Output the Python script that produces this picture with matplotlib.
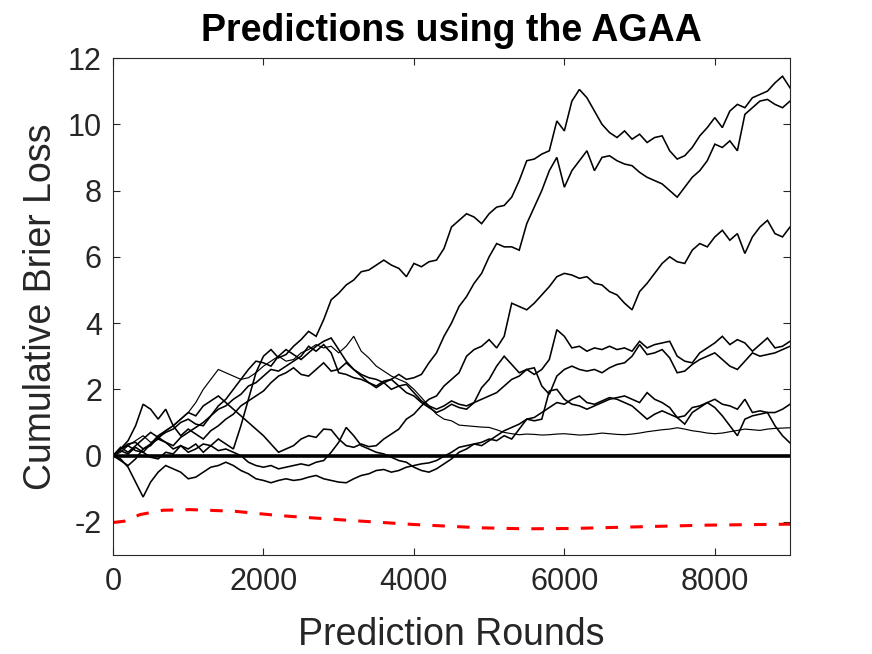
import numpy as np
import matplotlib
matplotlib.use("Agg")
import matplotlib.pyplot as plt

plt.rcParams['font.family'] = ['Liberation Sans', 'DejaVu Sans']
plt.rcParams['axes.unicode_minus'] = False

# Prediction rounds (sampled every 100 rounds)
rounds = np.arange(0, 9001, 100)

loss_a = [0.0, 0.15, 0.05, 0.25, 0.1, -0.05, -0.1, 0.1, 0.05, 0.3,
          0.2, 0.35, 0.1, 0.3, 0.5, 0.35, 0.2, 0.9, 1.7, 2.5,
          3.0, 3.2, 2.95, 3.05, 3.3, 3.5, 3.75, 3.6, 4.1, 4.7,
          4.9, 5.15, 5.3, 5.55, 5.6, 5.75, 5.9, 5.75, 5.65, 5.4,
          5.8, 5.7, 5.85, 5.9, 6.25, 6.9, 7.1, 7.3, 7.2, 7.0,
          7.3, 7.5, 7.55, 7.8, 8.3, 8.9, 8.95, 9.1, 9.2, 10.1,
          9.8, 10.7, 11.05, 10.8, 10.4, 10.0, 9.75, 9.6, 9.8, 9.55,
          9.7, 9.45, 9.6, 9.65, 9.2, 8.95, 9.05, 9.3, 9.65, 9.9,
          10.2, 9.9, 10.4, 10.6, 10.5, 10.8, 10.9, 11.0, 11.25, 11.45,
          11.1]

loss_b = [0.0, 0.2, 0.35, 0.4, 0.2, 0.3, 0.55, 0.7, 0.8, 1.0,
          1.1, 0.95, 0.9, 1.2, 1.4, 1.5, 1.7, 1.85, 2.1, 2.2,
          2.4, 2.6, 2.55, 2.7, 2.85, 3.0, 3.3, 3.15, 3.35, 3.1,
          2.5, 2.45, 2.35, 2.3, 2.2, 2.1, 2.25, 2.3, 2.45, 2.3,
          2.35, 2.45, 2.8, 3.1, 3.6, 4.0, 4.5, 4.8, 5.2, 5.5,
          6.0, 6.4, 6.3, 6.3, 6.2, 7.0, 7.5, 8.0, 8.6, 9.0,
          8.1, 8.6, 8.9, 9.2, 8.6, 9.0, 9.05, 8.9, 8.8, 8.75,
          8.55, 8.4, 8.3, 8.2, 8.0, 7.8, 8.1, 8.4, 8.6, 8.9,
          9.4, 9.3, 9.5, 9.2, 10.3, 10.5, 10.7, 10.75, 10.6, 10.5,
          10.7]

loss_c = [0.0, 0.2, 0.3, 0.15, 0.1, 0.35, 0.6, 0.75, 0.9, 1.1,
          1.3, 1.2, 1.5, 1.65, 1.8, 1.6, 1.4, 1.2, 1.0, 0.8,
          0.6, 0.35, 0.1, 0.2, 0.3, 0.5, 0.6, 0.55, 0.8, 0.78,
          0.5, 0.3, 0.25, 0.35, 0.27, 0.3, 0.5, 0.65, 0.8, 1.1,
          1.25, 1.5, 1.7, 1.8, 2.1, 2.3, 2.5, 3.0, 3.2, 3.3,
          3.5, 3.25, 3.6, 4.6, 4.5, 4.4, 4.6, 4.85, 5.1, 5.4,
          5.5, 5.45, 5.35, 5.4, 5.2, 5.15, 4.95, 4.85, 4.6, 4.4,
          4.95, 5.2, 5.5, 5.8, 6.0, 5.85, 5.8, 6.2, 6.4, 6.3,
          6.6, 6.8, 6.5, 6.7, 6.1, 6.6, 6.9, 7.1, 6.7, 6.6,
          6.9]

loss_d = [0.0, 0.2, 0.45, 0.9, 1.55, 1.4, 1.1, 1.4, 0.9, 0.6,
          0.8, 0.65, 0.5, 0.75, 0.9, 1.1, 1.25, 1.5, 1.65, 1.8,
          1.95, 2.2, 2.4, 2.5, 2.65, 2.45, 2.4, 2.6, 2.8, 2.55,
          2.6, 2.8, 2.6, 2.4, 2.2, 2.05, 2.2, 2.3, 2.1, 1.9,
          1.8, 1.6, 1.45, 1.3, 1.4, 1.55, 1.45, 1.4, 1.6, 2.05,
          2.3, 2.7, 3.0, 2.75, 2.5, 2.6, 2.45, 2.6, 2.9, 3.8,
          3.6, 3.25, 3.3, 3.15, 3.25, 3.2, 3.3, 3.2, 3.25, 3.15,
          3.45, 3.25, 3.35, 3.4, 3.45, 3.0, 2.85, 2.8, 3.1, 3.25,
          3.4, 3.6, 3.35, 3.5, 3.4, 3.15, 3.35, 3.55, 3.25, 3.3,
          3.45]

loss_e = [0.0, -0.15, -0.3, -0.1, 0.2, 0.35, 0.5, 0.4, 0.3, 0.55,
          0.7, 0.85, 1.0, 1.2, 1.5, 1.7, 2.0, 2.3, 2.6, 2.85,
          2.8, 2.7, 3.0, 3.2, 3.05, 2.9, 3.1, 3.3, 3.45, 3.55,
          3.2, 2.85, 2.6, 2.45, 2.35, 2.3, 2.2, 2.0, 2.1, 2.15,
          1.9, 1.65, 1.5, 1.4, 1.5, 1.65, 1.55, 1.5, 1.6, 1.7,
          1.8, 1.9, 2.1, 2.3, 2.4, 2.6, 2.65, 2.1, 1.85, 2.4,
          2.6, 2.7, 2.6, 2.55, 2.6, 2.5, 2.65, 2.75, 2.8, 3.0,
          3.35, 3.05, 3.1, 3.2, 2.95, 2.5, 2.55, 2.75, 2.9, 3.0,
          3.1, 2.9, 2.7, 2.6, 2.85, 3.1, 3.0, 3.05, 3.1, 3.2,
          3.3]

loss_f = [0.0, -0.1, -0.35, -0.8, -1.25, -0.8, -0.5, -0.3, -0.4, -0.5,
          -0.7, -0.65, -0.5, -0.35, -0.3, -0.2, -0.3, -0.45, -0.55, -0.7,
          -0.75, -0.82, -0.75, -0.7, -0.75, -0.72, -0.65, -0.6, -0.7, -0.75,
          -0.8, -0.82, -0.7, -0.6, -0.55, -0.45, -0.42, -0.5, -0.45, -0.35,
          -0.3, -0.25, -0.22, -0.15, -0.02, 0.1, 0.25, 0.3, 0.35, 0.4,
          0.5, 0.45, 0.6, 0.5, 0.8, 1.1, 1.05, 1.1, 1.95, 2.0,
          1.7, 1.55, 1.5, 1.4, 1.5, 1.6, 1.7, 1.75, 1.8, 1.7,
          1.6, 1.9, 1.7, 1.6, 1.45, 1.15, 1.2, 1.45, 1.5, 1.6,
          1.7, 1.55, 1.5, 1.4, 1.7, 1.3, 1.35, 1.3, 1.3, 1.4,
          1.55]

loss_g = [0.0, 0.1, 0.3, 0.45, 0.6, 0.4, 0.5, 0.75, 0.9, 1.1,
          1.3, 1.6, 2.0, 2.3, 2.6, 2.5, 2.4, 2.3, 2.35, 2.5,
          2.7, 2.85, 3.0, 2.85, 2.9, 3.1, 3.2, 3.35, 3.25, 3.3,
          3.1, 3.3, 3.6, 3.15, 2.95, 2.7, 2.55, 2.4, 2.3, 2.2,
          2.0, 1.75, 1.5, 1.25, 1.1, 1.05, 0.92, 0.9, 0.88, 0.86,
          0.85, 0.78, 0.7, 0.66, 0.63, 0.65, 0.64, 0.62, 0.63, 0.65,
          0.66, 0.64, 0.62, 0.63, 0.65, 0.68, 0.66, 0.64, 0.63, 0.65,
          0.68, 0.72, 0.75, 0.78, 0.8, 0.84, 0.8, 0.75, 0.72, 0.68,
          0.66, 0.68, 0.72, 0.76, 0.8, 0.78, 0.76, 0.8, 0.82, 0.83,
          0.84]

loss_h = [0.0, 0.25, 0.1, 0.3, 0.5, 0.7, 0.55, 0.4, 0.2, 0.3,
          0.1, 0.2, 0.35, 0.3, 0.15, 0.2, 0.1, 0.0, -0.2, -0.3,
          -0.35, -0.3, -0.4, -0.35, -0.3, -0.25, -0.3, -0.2, -0.15, 0.1,
          0.4, 0.85, 0.6, 0.3, 0.2, 0.1, 0.05, -0.05, -0.15, -0.2,
          -0.35, -0.45, -0.5, -0.4, -0.25, -0.1, 0.1, 0.2, 0.35, 0.3,
          0.45, 0.6, 0.75, 0.85, 0.95, 1.1, 1.15, 1.3, 1.45, 1.6,
          1.55, 1.7, 1.8, 1.6, 1.55, 1.65, 1.75, 1.7, 1.6, 1.5,
          1.3, 1.1, 1.25, 1.35, 1.25, 1.15, 0.95, 1.3, 1.45, 1.6,
          1.45, 1.2, 0.9, 0.6, 1.1, 1.2, 1.25, 1.3, 0.9, 0.6,
          0.38]

# Reference (red dashed) curve
ref_rounds = [0, 150, 360, 665, 1020, 1615, 2205, 3105, 4000, 4890,
              5490, 6090, 6980, 7870, 9000]
ref_loss = [-2.02, -1.98, -1.78, -1.65, -1.63, -1.68, -1.81, -1.95, -2.08, -2.18,
            -2.21, -2.2, -2.15, -2.1, -2.07]

xticks = [0, 2000, 4000, 6000, 8000]
yticks = [-2, 0, 2, 4, 6, 8, 10, 12]

fig = plt.figure(figsize=(8.72, 6.54), dpi=100)
ax = fig.add_axes([0.1296, 0.1514, 0.7764, 0.7599])

for series in [loss_a, loss_b, loss_c, loss_d, loss_e, loss_f, loss_h]:
    ax.plot(rounds, series, color='black', linewidth=1.15, solid_joinstyle='miter')
ax.plot(rounds, loss_g, color='black', linewidth=0.85)

ax.plot([rounds[0], rounds[-1]], [0, 0], color='black', linewidth=2.6)
ax.plot(ref_rounds, ref_loss, color='red', linewidth=2.2, linestyle=(0, (4.1, 4.0)))

ax.set_xlim(0, 9000)
ax.set_ylim(-3, 12)
ax.set_xticks(xticks)
ax.set_xticklabels([str(t) for t in xticks])
ax.set_yticks(yticks)
ax.set_yticklabels([str(t) for t in yticks])

ax.tick_params(direction='in', length=5, width=0.8, colors='#262626',
               labelsize=22, top=True, right=True, pad=8)
ax.tick_params(axis='x', pad=9)
for lab in ax.get_xticklabels() + ax.get_yticklabels():
    lab.set_color('#262626')
for s in ax.spines.values():
    s.set_color('#262626')
    s.set_linewidth(0.8)

ax.set_xlabel('Prediction Rounds', fontsize=27, color='#262626', labelpad=14)
ax.set_ylabel('Cumulative Brier Loss', fontsize=27, color='#262626', labelpad=6)
ax.set_title('Predictions using the AGAA', fontsize=27, fontweight='bold', pad=12)

fig.savefig('out.png', dpi=100)
